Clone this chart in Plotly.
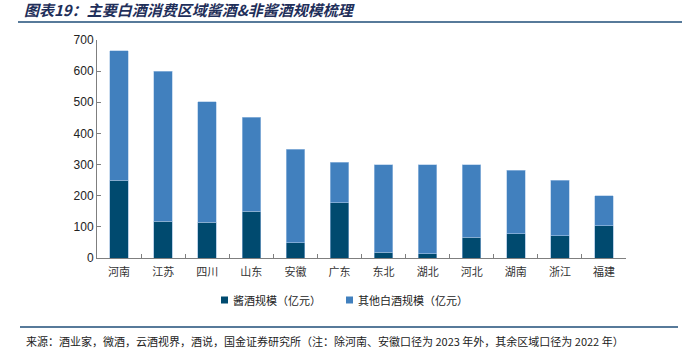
import plotly.graph_objects as go

categories = ["河南", "江苏", "四川", "山东", "安徽", "广东", "东北", "湖北", "河北", "湖南", "浙江", "福建"]
jiang = [250, 118, 115, 150, 49, 177, 18, 14, 67, 78, 72, 103]
total = [665, 600, 502, 452, 350, 308, 300, 300, 300, 282, 250, 200]
other = [t - j for t, j in zip(total, jiang)]
series_names = ["酱酒规模（亿元）", "其他白酒规模（亿元）"]

DARK = "#004A6F"
LIGHT = "#4180BE"

fig = go.Figure()
fig.add_bar(x=categories, y=jiang, name=series_names[0], marker=dict(color=DARK, line=dict(color="#8FB3D9", width=0.6)))
fig.add_bar(x=categories, y=other, name=series_names[1], marker=dict(color=LIGHT, line=dict(color="#A9C6E6", width=0.6)))

L, R, T, B = 97, 74, 40, 96
W, H = 700, 354
pw = W - L - R
ph = H - T - B

def px(x):
    return (x - L) / pw

def py(y):
    return (H - B - y) / ph

fig.update_layout(
    width=W, height=H, barmode="stack", bargap=0.58,
    margin=dict(l=L, r=R, t=T, b=B),
    plot_bgcolor="white", paper_bgcolor="white",
    font=dict(family="Noto Sans CJK SC, Arial", color="#222", size=11),
    showlegend=False,
    xaxis=dict(showline=True, linecolor="#7f7f7f", linewidth=1, ticks="inside", tickson="boundaries",
               ticklen=4, tickcolor="#7f7f7f", tickfont=dict(size=11, color="#333"), ticklabelstandoff=4),
    yaxis=dict(range=[0, 700], dtick=100, showgrid=False, showline=True, linecolor="#7f7f7f", linewidth=1,
               ticks="inside", ticklen=4, tickcolor="#7f7f7f", zeroline=False,
               tickfont=dict(family="Arial, Liberation Sans", size=12, color="#222")),
)

# legend drawn manually (compact squares like the reference)
for sx, name, col in [(221, series_names[0], DARK), (346, series_names[1], LIGHT)]:
    fig.add_shape(type="rect", xref="paper", yref="paper", x0=px(sx), x1=px(sx + 7),
                  y0=py(303.5), y1=py(296.5), fillcolor=col, line=dict(width=0))
    fig.add_annotation(text=name, xref="paper", yref="paper", x=px(sx + 10), y=py(300),
                       xanchor="left", yanchor="middle", showarrow=False,
                       font=dict(size=11, color="#222"))

fig.add_annotation(text="<b><i>图表19：主要白酒消费区域酱酒&非酱酒规模梳理</i></b>", xref="paper", yref="paper",
                   x=px(22), y=py(10), xanchor="left", yanchor="middle", showarrow=False,
                   font=dict(size=15, color="#1F2F5A", family="Noto Sans CJK SC"))
fig.add_shape(type="line", xref="paper", yref="paper", x0=px(18), x1=px(682), y0=py(22), y1=py(22),
              line=dict(color="#1F4E79", width=1.5))
fig.add_shape(type="line", xref="paper", yref="paper", x0=px(20), x1=px(678), y0=py(327), y1=py(327),
              line=dict(color="#1F4E79", width=1.5))
fig.add_annotation(text="来源：酒业家，微酒，云酒视界，酒说，国金证券研究所（注：除河南、安徽口径为 2023 年外，其余区域口径为 2022 年）",
                   xref="paper", yref="paper", x=px(24), y=py(341), xanchor="left", yanchor="middle",
                   showarrow=False, font=dict(size=11, color="#222"))

fig.write_html("out.html")
